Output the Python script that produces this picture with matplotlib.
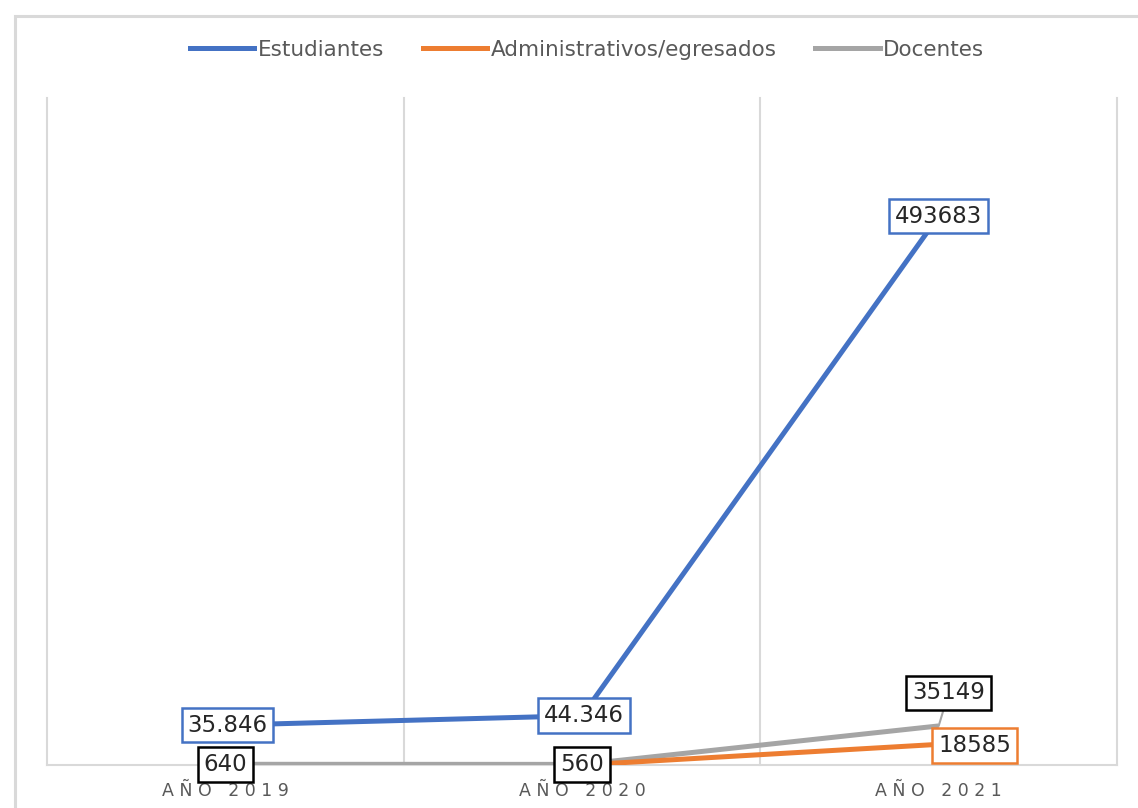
import numpy as np
import matplotlib
matplotlib.use("Agg")
import matplotlib.pyplot as plt
from matplotlib.patches import Rectangle
from matplotlib.lines import Line2D

categories = ["AÑO 2019", "AÑO 2020", "AÑO 2021"]
estudiantes = [35846, 44346, 493683]
administrativos = [np.nan, 0, 18585]
docentes = [640, 560, 35149]
est_labels = ["35.846", "44.346", "493683"]
adm_labels = [None, None, "18585"]
doc_labels = ["640", "560", "35149"]

BLUE = "#4472C4"
ORANGE = "#ED7D31"
GRAY = "#A5A5A5"
GRID = "#D9D9D9"
TXT = "#595959"

W, H = 1138, 808
fig = plt.figure(figsize=(W / 100, H / 100), dpi=100)
ax = fig.add_axes([47 / W, (H - 765) / H, (1117 - 47) / W, (765 - 98) / H])

x = np.arange(len(categories))
ax.plot(x, estudiantes, color=BLUE, lw=3.6, solid_capstyle="butt", zorder=3)
ax.plot(x, administrativos, color=ORANGE, lw=3.6, solid_capstyle="butt", zorder=3)
ax.plot(x, docentes, color=GRAY, lw=3.6, solid_capstyle="butt", zorder=2.9)

ax.set_xlim(-0.5, len(categories) - 0.5)
ax.set_ylim(0, 600000)
for b in np.arange(-0.5, len(categories), 1.0):
    ax.axvline(b, color=GRID, lw=1.5, zorder=1, clip_on=False)
ax.axhline(0, color=GRID, lw=1.5, zorder=1, clip_on=False)
for s in ax.spines.values():
    s.set_visible(False)
ax.set_yticks([])
ax.set_xticks(x)
ax.set_xticklabels([" ".join(c) for c in categories],
                   color=TXT, fontsize=12.5, family="DejaVu Sans")
ax.tick_params(axis="x", length=0, pad=12)

px = 0.72  # points per pixel


def label(xi, yi, text, ec, dx=0, dy=0, leader=None):
    bbox = dict(boxstyle="square,pad=0.25", fc="white", ec=ec, lw=1.8)
    kw = {}
    if leader:
        kw["arrowprops"] = dict(arrowstyle="-", color=leader, lw=1.5,
                                shrinkA=0, shrinkB=0)
    ax.annotate(text, (xi, yi), xytext=(dx * px, dy * px), textcoords="offset points",
                ha="center", va="center", fontsize=16.5, color="#262626",
                family="DejaVu Sans", bbox=bbox, zorder=5, annotation_clip=False, **kw)


for i, t in enumerate(est_labels):
    label(x[i], estudiantes[i], t, BLUE, dx=2 if i < 2 else 0)
for i, t in enumerate(doc_labels):
    if i < 2:
        label(x[i], docentes[i], t, "black")
    else:
        label(x[i], docentes[i], t, "black", dx=10, dy=33, leader=GRAY)
for i, t in enumerate(adm_labels):
    if t:
        label(x[i], administrativos[i], t, ORANGE, dx=36, dy=-1)

handles = [Line2D([], [], color=c, lw=3.6) for c in (BLUE, ORANGE, GRAY)]
leg = fig.legend(handles, ["Estudiantes", "Administrativos/egresados", "Docentes"],
                 loc="center", bbox_to_anchor=(587 / W, (H - 50) / H), ncol=3,
                 frameon=False, handlelength=3.0, handletextpad=0.15, columnspacing=1.8,
                 prop=dict(family="DejaVu Sans", size=15.5))
for t in leg.get_texts():
    t.set_color(TXT)

fig.patches.append(Rectangle((15 / W, -0.1), 2, (H - 16) / H + 0.1,
                             transform=fig.transFigure, fill=False, ec=GRID, lw=2.2))

fig.savefig("out.png", dpi=100, facecolor="white")
